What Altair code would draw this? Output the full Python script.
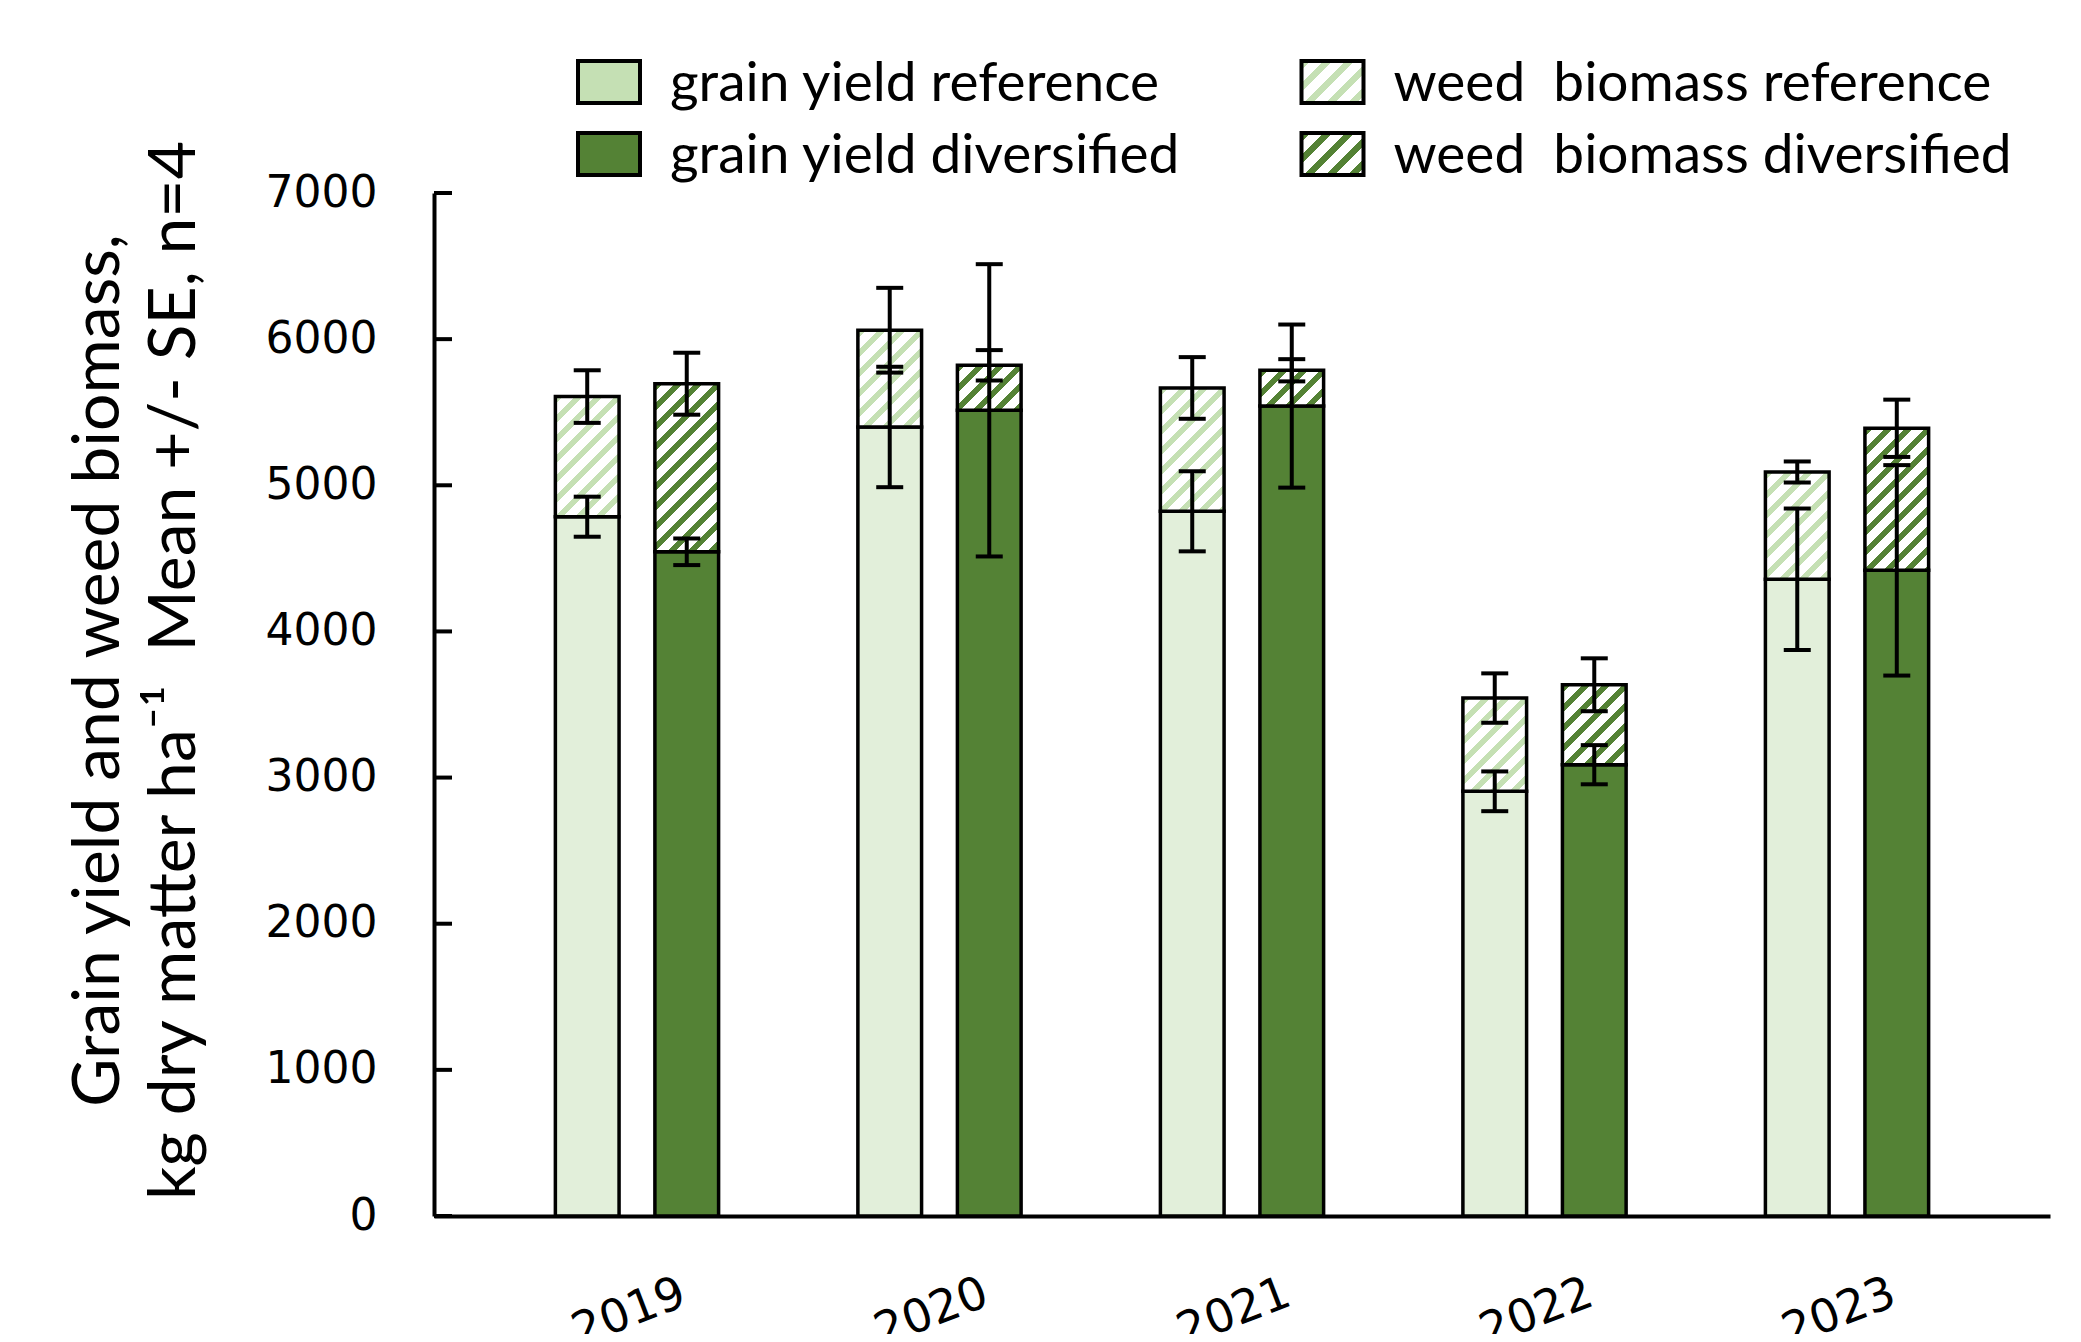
import altair as alt

# ---------------- data ----------------
years = ["2019", "2020", "2021", "2022", "2023"]
treatments = ["reference", "diversified"]

grain_ref = [4785, 5399, 4822, 2906, 4357]
weed_ref = [822, 662, 844, 638, 734]
grain_div = [4545, 5513, 5542, 3088, 4418]
weed_div = [1150, 308, 245, 547, 972]

se_grain_ref = [137, 412, 274, 136, 484]
se_weed_ref = [180, 290, 211, 169, 72]
se_grain_div = [91, 1000, 558, 134, 720]
se_weed_div = [212, 104, 76, 181, 196]

y_ticks = [0, 1000, 2000, 3000, 4000, 5000, 6000, 7000]

legend_labels = [
    "grain yield reference",
    "weed\u00a0 biomass reference",
    "grain yield diversified",
    "weed\u00a0 biomass diversified",
]
legend_cols = ["c1", "c2", "c1", "c2"]
legend_rows = ["r1", "r1", "r2", "r2"]

y_title = ["Grain yield and weed biomass,", "kg dry matter ha\u207b\u00b9\u00a0 Mean +/- SE, n=4"]

# ---------------- styles / layout ----------------
W, H = 1616, 1023
YMAX = 7000
PAD_X = 0.342
PAD_OFF_IN = 0.36
PAD_OFF_OUT = 0.18

LIGHT = "#E2EFDA"
LEG_LIGHT = "#C5E0B4"
DARK = "#548235"
STRIPE_LIGHT = "#C5E0B4"
LW = 4

step = W / (len(years) + PAD_X)
band = step * (1 - PAD_X)
off_step = band / (2 - PAD_OFF_IN + 2 * PAD_OFF_OUT)
bar_w = off_step * (1 - PAD_OFF_IN)


def hatch(w, h, color, period=20.0, frac=0.4):
    """45-degree stripe fill as a Vega linear gradient (bounding-box units)."""
    h = max(h, 1.0)
    lam = w * (w + h) / (w * w + h * h)
    S = w + h
    stops = []
    s = 0.0
    while s < S:
        a = s / S
        b = min((s + frac * period) / S, 1.0)
        stops += [
            {"offset": round(a, 5), "color": "white"},
            {"offset": round(a, 5), "color": color},
            {"offset": round(b, 5), "color": color},
            {"offset": round(b, 5), "color": "white"},
        ]
        s += period
    return {"gradient": "linear", "x1": 0, "y1": 0, "x2": lam, "y2": lam * h / w, "stops": stops}


records = []
for i, yr in enumerate(years):
    for trt, g, wd, sg, sw, stripe in [
        ("reference", grain_ref[i], weed_ref[i], se_grain_ref[i], se_weed_ref[i], STRIPE_LIGHT),
        ("diversified", grain_div[i], weed_div[i], se_grain_div[i], se_weed_div[i], DARK),
    ]:
        records.append({
            "year": yr, "trt": trt, "grain": g, "weed": wd,
            "se_grain": sg, "se_weed": sw,
            "hatch": hatch(bar_w, wd * H / YMAX, stripe),
        })

legend_fills = [LEG_LIGHT, hatch(62, 42, STRIPE_LIGHT, 22), DARK, hatch(62, 42, DARK, 22)]
leg_records = [
    {"label": l, "col": c, "row": r, "sw": f}
    for l, c, r, f in zip(legend_labels, legend_cols, legend_rows, legend_fills)
]

# ---------------- main chart ----------------
base = alt.Chart(alt.Data(values=records)).transform_calculate(
    total="datum.grain + datum.weed",
    g_lo="datum.grain - datum.se_grain",
    g_hi="datum.grain + datum.se_grain",
    w_lo="datum.grain + datum.weed - datum.se_weed",
    w_hi="datum.grain + datum.weed + datum.se_weed",
)

x_axis = alt.Axis(
    domainColor="black", domainWidth=LW, ticks=False, tickSize=0,
    labelFont="DejaVu Sans", labelFontSize=46, labelColor="black",
    labelAngle=339, labelAlign="center", labelBaseline="middle",
    labelPadding=96, labelOffset=-8, labelOverlap=False, title=None,
)
y_axis = alt.Axis(
    values=y_ticks, format="d", grid=False,
    domainColor="black", domainWidth=LW, ticks=False, tickSize=0,
    labelFont="DejaVu Sans", labelFontSize=44, labelColor="black", labelPadding=57,
    title=y_title, titleFont="Lato", titleFontSize=66, titleFontWeight="normal",
    titleColor="black", titleAngle=270, titleAlign="center", titleBaseline="top",
    titleX=-368, titleY=477, titleLineHeight=76,
)

X = alt.X("year:N", sort=years, scale=alt.Scale(paddingInner=PAD_X, paddingOuter=PAD_X), axis=x_axis)
XO = alt.XOffset("trt:N", sort=treatments,
                 scale=alt.Scale(domain=treatments, paddingInner=PAD_OFF_IN, paddingOuter=PAD_OFF_OUT))
YS = alt.Scale(domain=[0, YMAX], nice=False, zero=True)

grain_bars = base.mark_bar(stroke="black", strokeWidth=3.5).encode(
    x=X, xOffset=XO,
    y=alt.Y("grain:Q", scale=YS, axis=y_axis),
    fill=alt.Fill("trt:N", scale=alt.Scale(domain=treatments, range=[LIGHT, DARK]), legend=None),
)
weed_bars = base.mark_bar(stroke="black", strokeWidth=3.5).encode(
    x=X, xOffset=XO,
    y=alt.Y("grain:Q", scale=YS, axis=y_axis), y2="total:Q",
    fill=alt.Fill("hatch:N", scale=None),
)
grain_err = base.mark_rule(color="black", strokeWidth=LW).encode(
    x=X, xOffset=XO, y=alt.Y("g_lo:Q", scale=YS, axis=y_axis), y2="g_hi:Q",
)
weed_err = base.mark_rule(color="black", strokeWidth=LW).encode(
    x=X, xOffset=XO, y=alt.Y("w_lo:Q", scale=YS, axis=y_axis), y2="w_hi:Q",
)
caps = base.transform_fold(["g_lo", "g_hi", "w_lo", "w_hi"], as_=["end", "val"]).mark_tick(
    color="black", thickness=LW, size=27, opacity=1
).encode(x=X, xOffset=XO, y=alt.Y("val:Q", scale=YS, axis=y_axis))

inner_ticks = alt.Chart(alt.Data(values=[{"v": t} for t in y_ticks])).mark_rule(
    color="black", strokeWidth=LW
).encode(y=alt.Y("v:Q", scale=YS, axis=y_axis), x=alt.value(0), x2=alt.value(18))

main = alt.layer(grain_bars, weed_bars, grain_err, weed_err, caps, inner_ticks)

# ---------------- legend (own point scales above the plot) ----------------
leg_base = alt.Chart(alt.Data(values=leg_records)).encode(
    x=alt.X("col:N", scale=alt.Scale(type="point", domain=["c1", "c2"], range=[175, 898.5], padding=0),
            axis=None),
    y=alt.Y("row:N", scale=alt.Scale(type="point", domain=["r1", "r2"], range=[-111, -39], padding=0),
            axis=None),
)
swatches = leg_base.mark_point(
    shape="M-1,-0.677L1,-0.677L1,0.677L-1,0.677Z", size=62 * 62,
    filled=True, stroke="black", strokeWidth=LW, opacity=1,
).encode(fill=alt.Fill("sw:N", scale=None))
leg_text = leg_base.mark_text(
    align="left", baseline="middle", dx=61, dy=2, font="Lato", fontSize=55, color="black"
).encode(text="label:N")
legend = alt.layer(swatches, leg_text)

chart = alt.layer(main, legend).resolve_scale(x="independent", y="independent").properties(
    width=W, height=H,
    autosize=alt.AutoSizeParams(type="none"),
    padding={"left": 426, "top": 185, "right": 23, "bottom": 118},
    background="white",
).configure_view(stroke=None)

chart.save("out.html", embed_options={"renderer": "svg", "actions": False})
